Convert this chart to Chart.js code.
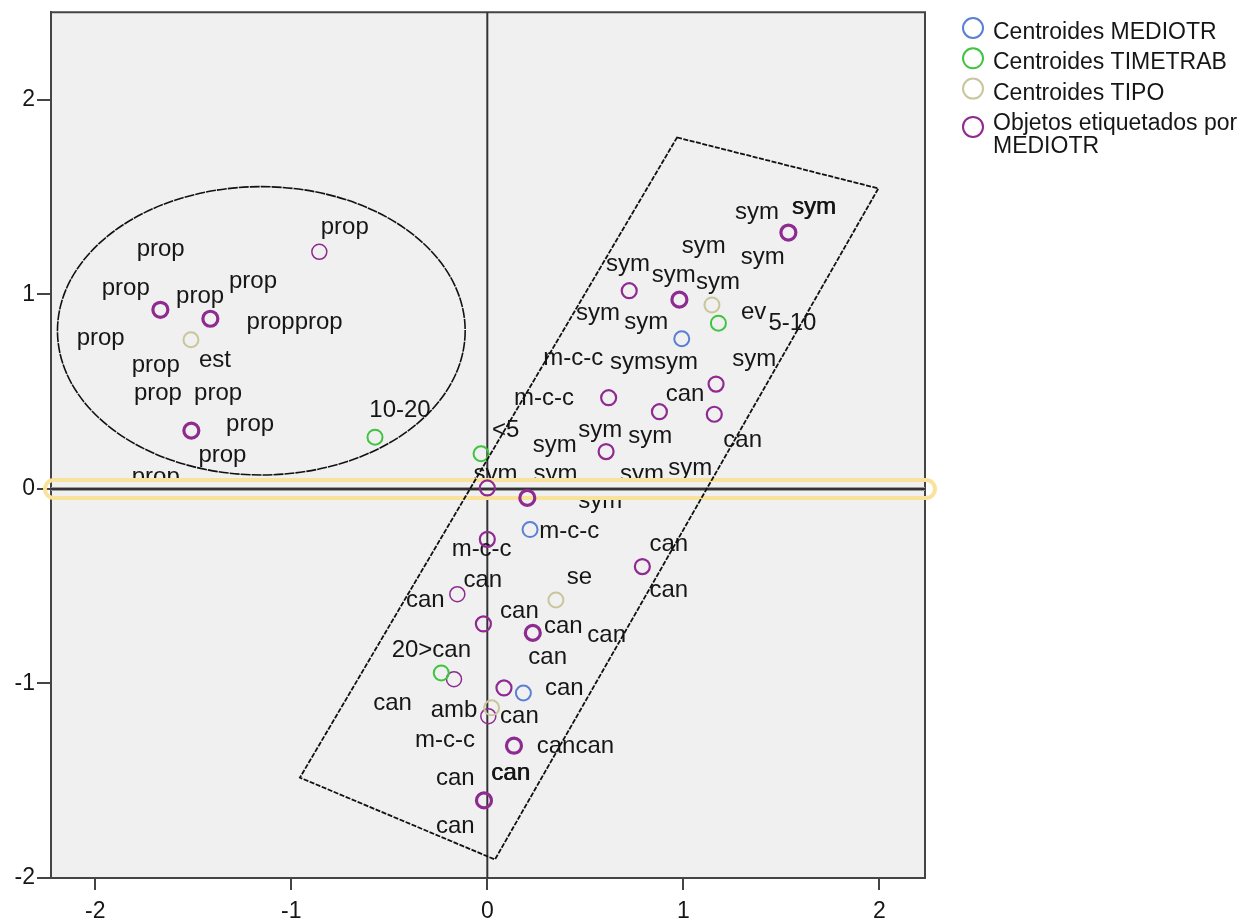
<!DOCTYPE html>
<html>
<head>
<meta charset="utf-8">
<script src="https://cdn.jsdelivr.net/npm/chart.js@4.4.1/dist/chart.umd.min.js"></script>
<style>
  html, body { margin: 0; padding: 0; background: #fff; }
  canvas { display: block; }
</style>
</head>
<body>
<canvas id="biplot" width="1260" height="922"></canvas>
<script>
// axis ticks
const xTicks = [-2, -1, 0, 1, 2];
const yTicks = [-2, -1, 0, 1, 2];

// objects labelled by MEDIOTR (count = how many objects overlap at that spot)
const objX = [-0.857, -1.668, -1.413, -1.510, 1.536, 0.724, 0.980, 1.167, 0.619, 0.878, 1.158, 0.606,
              0.000, 0.204, 0.000, 0.791, -0.153, -0.020, 0.232, -0.170, 0.085, 0.005, 0.136, -0.017];
const objY = [1.219, 0.921, 0.875, 0.300, 1.318, 1.019, 0.973, 0.539, 0.469, 0.397, 0.384, 0.192,
              0.005, -0.046, -0.259, -0.399, -0.541, -0.694, -0.740, -0.978, -1.023, -1.168, -1.320, -1.601];
const objCount = [1, 3, 3, 3, 3, 2, 3, 2, 2, 2, 2, 2, 2, 3, 2, 2, 1, 2, 3, 1, 2, 1, 3, 3];

// centroids
const medX = [0.992, 0.218, 0.184];
const medY = [0.772, -0.209, -1.049];
const timeX = [-0.573, 1.179, -0.032, -0.235];
const timeY = [0.266, 0.852, 0.181, -0.946];
const tipoX = [-1.512, 1.146, 0.350, 0.022];
const tipoY = [0.767, 0.946, -0.571, -1.125];

// point labels (category text at its plotted spot)
const labelText = ['prop', 'prop', 'prop', 'prop', 'prop', 'propprop', 'prop', 'est', 'prop', 'prop', 'prop', 'prop',
  'prop', '10-20', 'prop', 'sym', 'sym', 'sym', 'sym', 'sym', 'sym', 'sym', 'ev', '5-10', 'sym', 'sym', 'm-c-c',
  'symsym', 'sym', 'm-c-c', 'can', '<5', 'sym', 'sym', 'sym', 'can', 'sym', 'sym', 'sym', 'sym', 'sym', 'm-c-c',
  'm-c-c', 'can', 'can', 'can', 'se', 'can', 'can', 'can', 'can', '20>can', 'can', 'can', 'can', 'amb', 'can',
  'm-c-c', 'cancan', 'can', 'can', 'can'];
const labelX = [-0.850, -1.789, -1.967, -1.588, -1.318, -1.228, -2.095, -1.471, -1.814, -1.803, -1.496, -1.333,
  -1.474, -0.602, -1.814, 1.264, 1.553, 0.992, 1.293, 0.606, 0.839, 1.065, 1.294, 1.434, 0.453, 0.699, 0.286,
  0.626, 1.250, 0.136, 0.910, 0.024, 0.464, 0.232, 0.719, 1.204, 0.923, 0.677, 0.235, -0.071, 0.464, 0.265,
  -0.182, 0.827, -0.122, -0.415, 0.405, 0.827, 0.065, 0.289, 0.510, -0.488, 0.209, 0.294, -0.582, -0.289, 0.065,
  -0.369, 0.252, -0.262, 0.019, -0.262];
const labelY = [1.309, 1.198, 0.999, 0.954, 1.033, 0.824, 0.738, 0.627, 0.602, 0.457, 0.457, 0.300,
  0.141, 0.368, 0.027, 1.386, 1.412, 1.215, 1.156, 1.122, 1.062, 1.028, 0.875, 0.815, 0.866, 0.824, 0.639,
  0.619, 0.631, 0.431, 0.453, 0.269, 0.269, 0.192, 0.235, 0.218, 0.070, 0.040, 0.040, 0.040, -0.096, -0.251,
  -0.345, -0.319, -0.506, -0.609, -0.490, -0.558, -0.665, -0.740, -0.785, -0.864, -0.899, -1.061, -1.138, -1.171, -1.201,
  -1.325, -1.359, -1.521, -1.496, -1.768];
const labelCount = labelText.map((t, i) => (i === 16 || i === 60) ? 2 : 1);

// hand-drawn annotations, in data units
const ellipseShape = { cx: -1.153, cy: 0.813, rx: 1.04, ry: 0.741 };
const boxCorners = [[0.968, 1.807], [1.995, 1.545], [0.039, -1.905], [-0.956, -1.484]];

document.addEventListener('DOMContentLoaded', () => {
    const FONT = '"Liberation Sans", Arial, sans-serif';
    const COLORS = { med: '#5b7fd4', time: '#3fc43f', tipo: '#c9c59c', obj: '#8f2a91' };

    const toPoints = (xs, ys) => xs.map((v, i) => ({ x: v, y: ys[i] }));

    const overlay = {
        id: 'overlay',
        beforeDraw: (chart) => {
            const { ctx, chartArea: a } = chart;
            ctx.save();
            ctx.fillStyle = '#f0f0f0';
            ctx.fillRect(a.left, a.top, a.right - a.left, a.bottom - a.top);
            ctx.restore();
        },
        beforeDatasetsDraw: (chart) => {
            const { ctx, chartArea: a, scales: { x, y } } = chart;
            ctx.save();

            ctx.strokeStyle = '#444';
            ctx.lineWidth = 2;
            ctx.beginPath();
            ctx.moveTo(a.left, a.top);
            ctx.lineTo(a.right, a.top);
            ctx.lineTo(a.right, a.bottom);
            ctx.stroke();

            const x0 = x.getPixelForValue(0);
            ctx.strokeStyle = '#333';
            ctx.beginPath();
            ctx.moveTo(x0, a.top);
            ctx.lineTo(x0, a.bottom);
            ctx.stroke();

            ctx.font = `24px ${FONT}`;
            ctx.fillStyle = '#161616';
            ctx.textAlign = 'left';
            ctx.textBaseline = 'alphabetic';
            labelText.forEach((t, i) => {
                const px = x.getPixelForValue(labelX[i]);
                const py = y.getPixelForValue(labelY[i]);
                ctx.fillText(t, px, py);
                if (labelCount[i] > 1) ctx.fillText(t, px + 0.8, py);
            });

            // selected y=0 reference line
            const y0 = y.getPixelForValue(0);
            const half = 9;
            ctx.fillStyle = '#f0f0f0';
            ctx.fillRect(a.left + 1, y0 - half, a.right - a.left - 2, half * 2);
            const bx0 = a.left - 6, bx1 = a.right + 10;
            ctx.strokeStyle = '#f9e39c';
            ctx.lineWidth = 4;
            ctx.beginPath();
            ctx.moveTo(bx0 + half, y0 - half);
            ctx.lineTo(bx1 - half, y0 - half);
            ctx.arc(bx1 - half, y0, half, -Math.PI / 2, Math.PI / 2);
            ctx.lineTo(bx0 + half, y0 + half);
            ctx.arc(bx0 + half, y0, half, Math.PI / 2, Math.PI * 1.5);
            ctx.closePath();
            ctx.stroke();
            ctx.strokeStyle = '#9a9a9a';
            ctx.lineWidth = 4;
            ctx.beginPath();
            ctx.moveTo(a.left, y0);
            ctx.lineTo(a.right, y0);
            ctx.stroke();
            ctx.strokeStyle = '#333';
            ctx.lineWidth = 2;
            ctx.stroke();
            ctx.restore();
        },
        afterDatasetsDraw: (chart) => {
            const { ctx, scales: { x, y } } = chart;
            ctx.save();
            ctx.strokeStyle = '#111';
            ctx.lineWidth = 1.6;

            const cx = x.getPixelForValue(ellipseShape.cx);
            const cy = y.getPixelForValue(ellipseShape.cy);
            const rx = Math.abs(x.getPixelForValue(ellipseShape.cx + ellipseShape.rx) - cx);
            const ry = Math.abs(y.getPixelForValue(ellipseShape.cy + ellipseShape.ry) - cy);
            ctx.setLineDash([10, 1]);
            ctx.beginPath();
            ctx.ellipse(cx, cy, rx, ry, 0, 0, Math.PI * 2);
            ctx.stroke();

            ctx.lineWidth = 1.8;
            ctx.setLineDash([5, 1.5]);
            ctx.beginPath();
            boxCorners.forEach(([vx, vy], i) => {
                const px = x.getPixelForValue(vx);
                const py = y.getPixelForValue(vy);
                if (i === 0) ctx.moveTo(px, py); else ctx.lineTo(px, py);
            });
            ctx.closePath();
            ctx.stroke();
            ctx.restore();
        },
        afterDraw: (chart) => {
            const { ctx } = chart;
            ctx.save();
            ctx.font = `23px ${FONT}`;
            ctx.fillStyle = '#161616';
            ctx.textAlign = 'left';
            ctx.textBaseline = 'alphabetic';
            let base = 39;
            chart.data.datasets.forEach((ds) => {
                const lines = ds.label.split('\n');
                const cy = base - 11 + (lines.length - 1) * 8;
                ctx.strokeStyle = ds.borderColor;
                ctx.lineWidth = 2;
                ctx.beginPath();
                ctx.arc(973, cy, 10, 0, Math.PI * 2);
                ctx.stroke();
                lines.forEach((line, j) => ctx.fillText(line, 993, base + j * 23.5));
                base += 30.3;
            });
            ctx.restore();
        }
    };

    const axisStyle = (ticks, tickLength, padding) => ({
        type: 'linear',
        afterBuildTicks: (scale) => { scale.ticks = ticks.map(v => ({ value: v })); },
        grid: { drawOnChartArea: false, drawTicks: true, tickLength, color: '#444', lineWidth: 2 },
        border: { display: true, color: '#444', width: 2 },
        ticks: { font: { family: FONT, size: 23, lineHeight: 0.9 }, color: '#161616', padding, maxRotation: 0, autoSkip: false }
    });

    new Chart(document.getElementById('biplot'), {
        type: 'scatter',
        data: {
            datasets: [
                { label: 'Centroides MEDIOTR', data: toPoints(medX, medY), borderColor: COLORS.med, pointBorderWidth: 2 },
                { label: 'Centroides TIMETRAB', data: toPoints(timeX, timeY), borderColor: COLORS.time, pointBorderWidth: 2 },
                { label: 'Centroides TIPO', data: toPoints(tipoX, tipoY), borderColor: COLORS.tipo, pointBorderWidth: 2 },
                {
                    label: 'Objetos etiquetados por\nMEDIOTR',
                    data: toPoints(objX, objY),
                    borderColor: COLORS.obj,
                    pointBorderWidth: objCount.map(c => [1.5, 2.2, 3.2][c - 1])
                }
            ]
        },
        options: {
            responsive: false,
            animation: false,
            events: [],
            layout: { padding: { top: 12, right: 335, left: 0, bottom: 0 } },
            elements: { point: { radius: 7.5, backgroundColor: 'rgba(0,0,0,0)', pointStyle: 'circle' } },
            plugins: { legend: { display: false }, tooltip: { enabled: false } },
            scales: {
                x: Object.assign(axisStyle(xTicks, 12, 11), {
                    min: -2.226, max: 2.233,
                    afterFit: (scale) => { scale.height = 44; }
                }),
                y: Object.assign(axisStyle(yTicks, 14, 2), {
                    min: -2, max: 2.45,
                    afterFit: (scale) => { scale.width = 51; }
                })
            }
        },
        plugins: [overlay]
    });
});
</script>
</body>
</html>
